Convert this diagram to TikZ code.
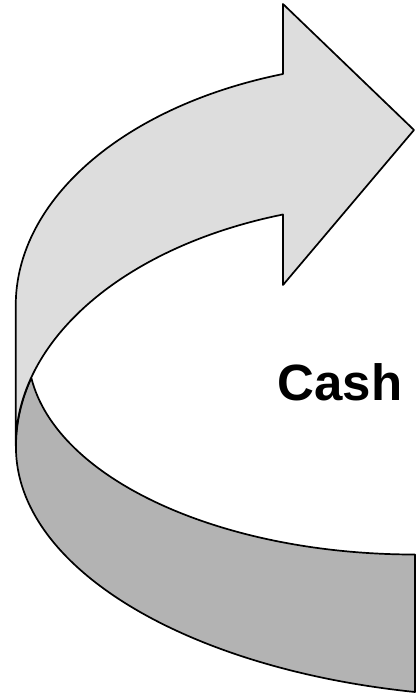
\documentclass[tikz,border=0pt]{standalone}
\usepackage{fontspec}
\setmainfont{Liberation Sans}
\definecolor{lightband}{RGB}{221,221,221}
\definecolor{darkband}{RGB}{179,179,179}
\begin{document}
\begin{tikzpicture}[x=1pt,y=-1pt,
  band/.style={draw=black, line width=1.7pt, line join=round}]
\useasboundingbox (0,0) rectangle (417,695);
% back (dark) band
\path[band, fill=darkband] (16,446) coordinate (dl)
  arc[start angle=180, end angle=196.25, x radius=384, y radius=243] coordinate (cross)
  arc[start angle=172.5, end angle=90, x radius=387, y radius=203] coordinate (tr)
  -- (415,692) coordinate (br)
  arc[start angle=101.65, end angle=180, x radius=500, y radius=250]
  -- cycle;
% front (light) band with arrow head
\path[band, fill=lightband] (283,74) coordinate (st)
  arc[start angle=252.3, end angle=180, x radius=384, y radius=243] coordinate (lt)
  -- (15.7,446) coordinate (lb)
  arc[start angle=180, end angle=252.3, x radius=384, y radius=243] coordinate (sb)
  -- (283,285) coordinate (hb)
  -- (414,130) coordinate (tip)
  -- (283,4) coordinate (ht)
  -- cycle;
\node[font=\bfseries\fontsize{51}{51}\selectfont, anchor=base] (cash) at (340,400) {Cash};
\end{tikzpicture}
\end{document}
